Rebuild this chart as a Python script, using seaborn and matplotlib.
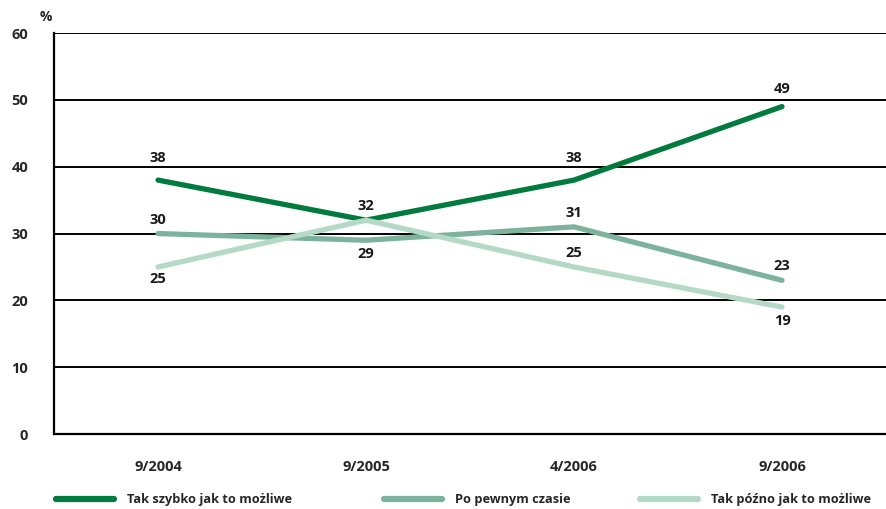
import matplotlib
matplotlib.use("Agg")
import matplotlib.pyplot as plt
import seaborn as sns
import pandas as pd

periods = ["9/2004", "9/2005", "4/2006", "9/2006"]
series_names = ["Tak szybko jak to możliwe", "Po pewnym czasie", "Tak późno jak to możliwe"]
fast = [38, 32, 38, 49]
later = [30, 29, 31, 23]
late = [25, 32, 25, 19]
colors = ["#007a3d", "#7db39c", "#b5d9c7"]
# label offset in points per point: positive above, negative below, 0 = no label
label_offset = {
    series_names[0]: [16, 10, 16, 13],
    series_names[1]: [10, -10, 10, 10],
    series_names[2]: [-9, 0, 10, -10],
}

rows = []
for name, vals in zip(series_names, [fast, later, late]):
    for i, (p, v) in enumerate(zip(periods, vals)):
        rows.append({"pos": i, "okres": p, "wartosc": v, "seria": name})
df = pd.DataFrame(rows)

sns.set_style("white")
plt.rcParams["font.family"] = ["Open Sans", "DejaVu Sans"]
plt.rcParams["font.weight"] = "bold"

fig = plt.figure(figsize=(8.86, 5.09), dpi=100)
ax = fig.add_axes([0.061, 0.1473, 0.939, 0.7877])

for y in range(10, 70, 10):
    ax.axhline(y, color="black", lw=1.4, zorder=1)

sns.lineplot(data=df, x="pos", y="wartosc", hue="seria", hue_order=series_names,
             palette=colors, linewidth=3.8, legend=False, ax=ax, zorder=3,
             solid_capstyle="round")

for name, vals in zip(series_names, [fast, later, late]):
    for i, v in enumerate(vals):
        off = label_offset[name][i]
        if off == 0:
            continue
        ax.annotate(str(v), (i, v), xytext=(0, off), textcoords="offset points",
                    ha="center", va="center",
                    fontsize=10.5, fontweight="bold", color="#1a1a1a")

ax.set_xlim(-0.5, 3.5)
ax.set_ylim(0, 60)
ax.set_yticks(range(0, 70, 10))
ax.set_yticklabels([str(v) for v in range(0, 70, 10)], fontsize=10.5, fontweight="bold")
ax.set_xticks([-0.5, 0.5, 1.5, 2.5, 3.5])
ax.set_xticklabels([])
ax.set_xticks(range(4), minor=True)
ax.set_xticklabels(periods, minor=True, fontsize=10.5, fontweight="bold")
ax.tick_params(axis="x", which="major", length=6.5, width=1.4, direction="out", color="black")
ax.tick_params(axis="x", which="minor", length=0, pad=19)
ax.tick_params(axis="y", length=8.6, width=1.4, direction="out", color="black", pad=10)
ax.set_xlabel("")
ax.set_ylabel("")
for s in ["top", "right"]:
    ax.spines[s].set_visible(False)
for s in ["left", "bottom"]:
    ax.spines[s].set_linewidth(1.6)
    ax.spines[s].set_color("black")

fig.text(46 / 886, 1 - 17 / 509, "%", ha="center", va="center", fontsize=10, fontweight="bold")

# one legend entry per slot along the bottom edge
slots = [62, 390, 646]
for name, c, x0 in zip(series_names, colors, slots):
    h = plt.Line2D([0], [0], color=c, lw=4.5, solid_capstyle="round")
    lg = fig.legend([h], [name], loc="center left",
                    bbox_to_anchor=(x0 / 886 - 0.012, 1 - 500 / 509),
                    frameon=False, handlelength=4.5, handletextpad=1.0,
                    borderaxespad=0, prop={"weight": "bold", "size": 9.2})

fig.savefig("out.png", dpi=100)
